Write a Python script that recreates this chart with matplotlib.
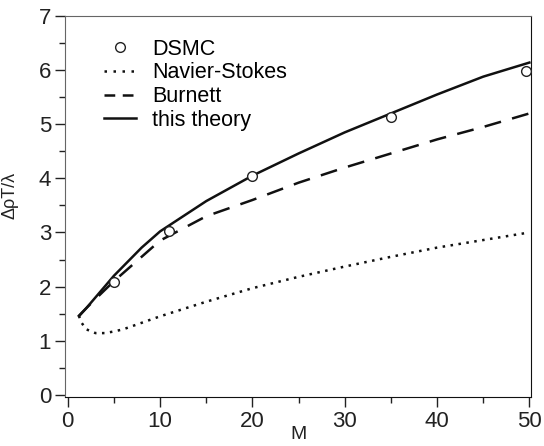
import matplotlib
matplotlib.use("Agg")
import matplotlib.pyplot as plt
from matplotlib.lines import Line2D
from matplotlib.ticker import MultipleLocator

plt.rcParams["font.family"] = ["Liberation Sans", "DejaVu Sans"]

# DSMC points
dsmc_m = [5.0, 11.0, 20.0, 35.0, 49.6]
dsmc_y = [2.08, 3.03, 4.04, 5.13, 5.98]

# Navier-Stokes
ns_m = [1.2, 1.5, 2, 3, 4, 5, 6, 8, 10, 15, 20, 25, 30, 35, 40, 45, 50]
ns_y = [1.46, 1.33, 1.21, 1.14, 1.14, 1.17, 1.21, 1.33, 1.45, 1.72, 1.97, 2.18, 2.37, 2.55, 2.72, 2.86, 3.0]

# Burnett
bu_m = [1.2, 2, 3, 5, 8, 10, 15, 20, 25, 30, 35, 40, 45, 50]
bu_y = [1.45, 1.6, 1.77, 2.1, 2.55, 2.85, 3.3, 3.6, 3.92, 4.2, 4.46, 4.72, 4.95, 5.2]

# this theory
th_m = [1.2, 2, 3, 5, 8, 10, 15, 20, 25, 30, 35, 40, 45, 50]
th_y = [1.46, 1.6, 1.8, 2.2, 2.72, 3.02, 3.58, 4.05, 4.46, 4.85, 5.2, 5.55, 5.88, 6.14]

labels = ["DSMC", "Navier-Stokes", "Burnett", "this theory"]

fig = plt.figure(figsize=(5.44, 4.46), dpi=100)
ax = fig.add_axes([0.1195, 0.11, 0.857, 0.854])

ax.plot(dsmc_m, dsmc_y, "o", ms=7, mfc="white", mec="#222222", mew=1.0, zorder=3)
ax.plot(ns_m, ns_y, color="#111111", lw=1.8, ls=(0, (1, 2.2)))
ax.plot(bu_m, bu_y, color="#111111", lw=1.8, ls=(0, (6.8, 4.6)))
ax.plot(th_m, th_y, color="#111111", lw=1.8, ls="-")

ax.set_xlim(-0.3, 50.2)
ax.set_ylim(-0.04, 7)
ax.xaxis.set_major_locator(MultipleLocator(10))
ax.xaxis.set_minor_locator(MultipleLocator(5))
ax.yaxis.set_major_locator(MultipleLocator(1))
ax.yaxis.set_minor_locator(MultipleLocator(0.5))
ax.tick_params(which="major", length=7, width=1, labelsize=16, colors="#222222", pad=3)
ax.tick_params(which="minor", length=4, width=1, colors="#222222")
ax.tick_params(top=False, right=False)

for side in ["bottom", "right"]:
    ax.spines[side].set_color("#111111")
for side in ["left", "top"]:
    ax.spines[side].set_color("#666666")

ax.set_xlabel("M", fontsize=14, color="#222222")
ax.xaxis.set_label_coords(0.5, -0.075)
ax.set_ylabel("ΔρT/λ", fontsize=13, color="#222222")
ax.yaxis.set_label_coords(-0.1, 0.53)

# legend handles use shorter dashes, as in the original figure
handles = [
    Line2D([], [], ls="none", marker="o", ms=7, mfc="white", mec="#222222", mew=1.0),
    Line2D([], [], color="#111111", lw=1.8, ls=(0, (1, 2.6))),
    Line2D([], [], color="#111111", lw=1.8, ls=(0, (4.3, 3.0))),
    Line2D([], [], color="#111111", lw=1.8, ls="-"),
]
ax.legend(handles, labels, loc="upper left", bbox_to_anchor=(0.083, 0.94), frameon=False,
          fontsize=15.5, borderaxespad=0, borderpad=0, handlelength=1.5, labelspacing=0.12,
          handletextpad=0.75)

fig.savefig("out.png", dpi=100)
